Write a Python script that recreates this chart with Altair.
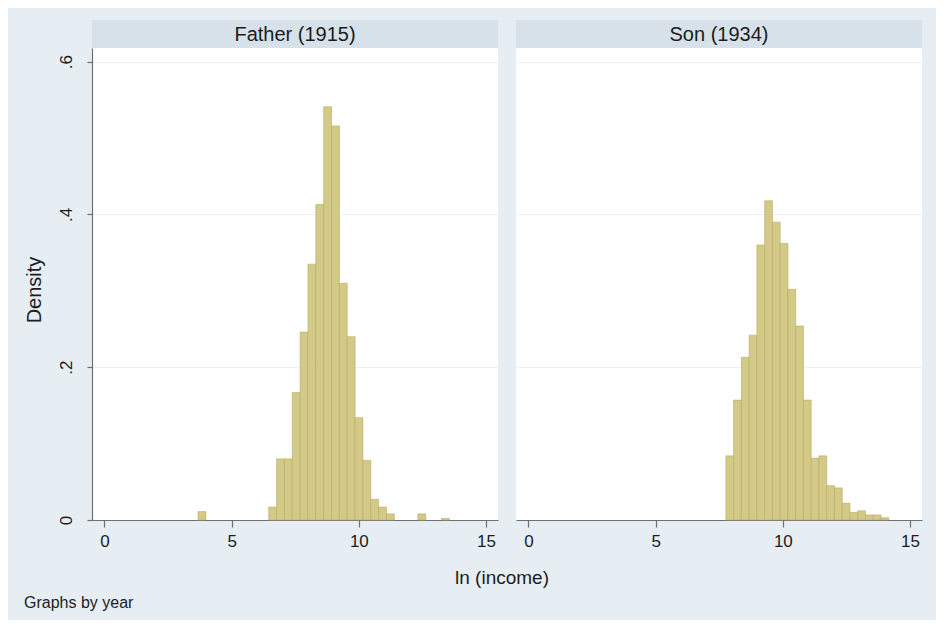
import altair as alt
import pandas as pd

# ---- data ----
panel_titles = ["Father (1915)", "Son (1934)"]

father_bin_start = 3.68
father_bin_width = 0.3086
father_density = [0.011, 0, 0, 0, 0, 0, 0, 0, 0, 0.017, 0.080, 0.080, 0.167,
                  0.246, 0.335, 0.413, 0.541, 0.516, 0.310, 0.240, 0.134, 0.078,
                  0.027, 0.017, 0.008, 0, 0, 0, 0.008, 0, 0, 0.002]

son_bin_start = 7.76
son_bin_width = 0.305
son_density = [0.084, 0.157, 0.213, 0.242, 0.360, 0.418, 0.390, 0.362, 0.302,
               0.254, 0.157, 0.081, 0.084, 0.045, 0.042, 0.022, 0.010, 0.012,
               0.0066, 0.0066, 0.003]

x_ticks = [0, 5, 10, 15]
y_ticks = [0, 0.2, 0.4, 0.6]

x_title = "ln (income)"
y_title = "Density"
note_text = "Graphs by year"

# ---- styling ----
BG = "#e7eef3"
STRIP = "#d6e1e9"
BAR_FILL = "#d4ca88"
BAR_STROKE = "#b6ab63"
GRID = "#eaf0f3"
AXIS = "#707070"
TEXT = "#1c1c1c"
FONT = "Liberation Sans"

W, H = 406, 472
xscale = alt.Scale(domain=[-0.49, 15.47], nice=False, zero=False)
yscale = alt.Scale(domain=[0, 0.618], nice=False, zero=True)


def make_df(start, width, dens):
    rows = []
    for i, d in enumerate(dens):
        if d > 0:
            rows.append({"x0": start + i * width, "x1": start + (i + 1) * width,
                         "density": d, "base": 0.0})
    return pd.DataFrame(rows)


def panel(df, title, left):
    xaxis = alt.Axis(values=x_ticks, title=None, grid=False, tickSize=7,
                     labelPadding=6, labelFontSize=17, labelFont=FONT,
                     labelColor=TEXT, domainColor=AXIS, tickColor=AXIS,
                     domainWidth=1.2, tickWidth=1.2, labelFlush=False)
    if left:
        yaxis = alt.Axis(values=y_ticks, title=None, grid=True, gridColor=GRID,
                         gridWidth=1.2, tickSize=5, labelAngle=270,
                         labelAlign="center", labelBaseline="bottom",
                         labelPadding=12, labelFontSize=17, labelFont=FONT,
                         labelColor=TEXT, domainColor=AXIS, tickColor=AXIS,
                         domainWidth=1.2, tickWidth=1.2, labelFlush=False,
                         labelExpr="datum.value == 0 ? '0' : replace(format(datum.value, '.1f'), '0.', '.')")
    else:
        yaxis = alt.Axis(values=y_ticks, title=None, grid=True, gridColor=GRID,
                         gridWidth=1.2, ticks=False, labels=False, domain=False)

    bars = alt.Chart(df).mark_rect(fill=BAR_FILL, stroke=BAR_STROKE,
                                   strokeWidth=0.6).encode(
        x=alt.X("x0:Q", scale=xscale, axis=xaxis),
        x2="x1:Q",
        y=alt.Y("density:Q", scale=yscale, axis=yaxis),
        y2="base:Q",
    )
    tdf = pd.DataFrame({"t": [title]})
    strip = alt.Chart(tdf).mark_rect(fill=STRIP).encode(
        x=alt.value(0), x2=alt.value(W), y=alt.value(-28), y2=alt.value(0))
    strip_text = alt.Chart(tdf).mark_text(
        font=FONT, fontSize=20, color=TEXT, baseline="middle", align="center"
    ).encode(x=alt.value(W / 2), y=alt.value(-13), text="t:N")
    layers = [bars, strip, strip_text]
    if left:
        ydf = pd.DataFrame({"t": [y_title]})
        ytext = alt.Chart(ydf).mark_text(
            font=FONT, fontSize=20, color=TEXT, angle=270,
            baseline="middle", align="center"
        ).encode(x=alt.value(-57), y=alt.value(242), text="t:N")
        xdf = pd.DataFrame({"t": [x_title]})
        xtext = alt.Chart(xdf).mark_text(
            font=FONT, fontSize=19, color=TEXT, baseline="middle", align="center"
        ).encode(x=alt.value(410), y=alt.value(530), text="t:N")
        ndf = pd.DataFrame({"t": [note_text]})
        ntext = alt.Chart(ndf).mark_text(
            font=FONT, fontSize=16, color=TEXT, baseline="middle", align="left"
        ).encode(x=alt.value(-68), y=alt.value(555), text="t:N")
        layers += [ytext, xtext, ntext]
    return alt.layer(*layers).properties(width=W, height=H)


left = panel(make_df(father_bin_start, father_bin_width, father_density),
             panel_titles[0], True)
right = panel(make_df(son_bin_start, son_bin_width, son_density),
              panel_titles[1], False)

chart = alt.hconcat(left, right, spacing=18, bounds="flush").properties(
    background=BG,
    padding={"left": 16, "top": 12, "right": 14, "bottom": 9},
).configure_view(fill="white", stroke=None)

chart.save("out.html", embed_options={"renderer": "svg", "actions": False})
